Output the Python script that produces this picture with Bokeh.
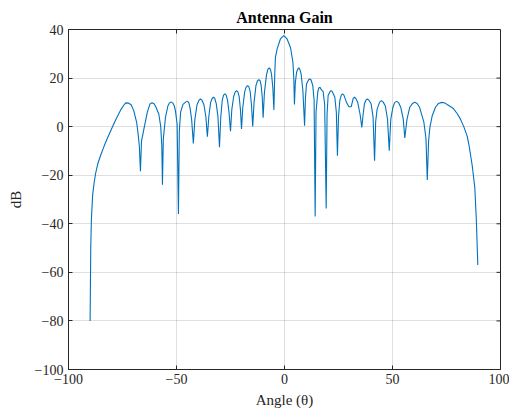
from bokeh.plotting import figure
from bokeh.models import Range1d, FixedTicker
from bokeh.embed import file_html
from bokeh.resources import INLINE

# Angle (deg) and gain (dB)
angle = [
    -90.0, -89.7, -89.4, -88.8, -88.2, -87.5, -86.5, -85.2, -83.5, -82.1, -80.5, -79.0, -77.5, -75.9, -74.5, -73.5, -72.3, -71.0, -69.8, -68.5, -67.9, -67.2, -66.7,
    -66.2, -65.1, -63.5, -62.3, -61.3, -60.3, -59.5, -58.2, -57.3, -56.8, -56.5,
    -56.1, -55.1, -54.0, -53.3, -52.5, -51.7, -51.0, -50.5, -49.7, -49.1,
    -48.7, -48.1, -47.0, -45.8, -45.0, -44.3, -43.7, -43.0, -42.2,
    -41.5, -40.5, -39.6, -38.9, -38.2, -37.3, -36.4, -35.7,
    -35.0, -34.2, -33.5, -32.9, -32.3, -31.6, -30.8, -30.1,
    -29.5, -28.8, -28.2, -27.6, -27.0, -26.4, -25.7, -25.0,
    -24.4, -23.5, -22.8, -22.2, -21.6, -21.0, -20.4, -19.9,
    -19.3, -18.4, -17.7, -17.1, -16.5, -15.9, -15.3, -14.7,
    -14.1, -13.2, -12.5, -11.9, -11.3, -10.8, -10.3, -9.9,
    -9.3, -8.3, -7.7, -7.1, -6.5, -6.0, -5.4, -4.9,
    -4.5, -4.2, -3.4, -1.9, -0.3, 1.2, 2.8, 3.9, 4.3, 4.6,
    5.0, 5.6, 6.1, 6.6, 7.1, 7.7, 8.5, 9.3,
    9.7, 10.2, 11.1, 11.7, 12.3, 13.1, 13.7, 14.2,
    14.6, 15.4, 15.8, 16.3, 16.7, 17.0, 17.9, 18.6, 19.3,
    19.7, 20.2, 21.0, 21.6, 22.2, 23.3, 24.0, 24.5,
    25.0, 25.6, 26.3, 26.9, 27.5, 28.7, 29.8, 30.9, 31.8, 32.4, 33.0, 33.9, 35.0, 35.8,
    36.4, 37.0, 37.7, 38.4, 39.1, 40.1, 41.0, 41.7,
    42.2, 42.9, 44.1, 44.9, 45.7, 46.7, 47.7, 48.5,
    49.2, 50.2, 51.0, 51.9, 52.8, 53.8, 55.0, 55.7,
    56.7, 58.0, 59.2, 60.3, 61.4, 62.5, 64.5, 65.5, 66.1,
    66.7, 67.3, 68.4, 69.9, 71.2, 72.8, 74.3, 75.5, 78.0, 80.0, 81.5, 83.0, 84.6, 85.5, 86.9, 88.1, 88.8, 89.5,
]
gain_db = [
    -80.0, -50.0, -38.0, -28.0, -23.5, -19.5, -15.5, -12.0, -8.0, -5.0, -1.8, 1.2, 4.0, 6.8, 8.7, 9.8, 9.7, 9.0, 6.6, 2.0, -2.0, -8.0, -18.4,
    -6.0, -1.0, 6.0, 9.3, 9.8, 9.3, 8.0, 5.2, 0.0, -8.0, -23.9,
    -5.0, 3.8, 8.5, 9.7, 10.2, 9.7, 8.5, 6.6, 1.0, -36.0,
    -2.0, 6.0, 9.2, 10.1, 10.5, 9.9, 7.5, 3.0, -6.9,
    3.0, 9.0, 10.9, 11.4, 10.9, 9.0, 4.0, -4.1,
    4.5, 10.0, 11.6, 12.1, 11.6, 9.5, 4.0, -8.5,
    4.0, 11.0, 13.0, 13.5, 13.0, 11.0, 6.0, -1.9,
    7.0, 12.5, 14.3, 14.8, 14.3, 12.5, 7.0, -1.0,
    8.0, 14.5, 16.4, 16.9, 16.4, 14.5, 9.0, 0.1,
    10.0, 17.0, 18.9, 19.4, 18.9, 17.0, 12.0, 3.7,
    14.0, 21.5, 23.6, 24.2, 23.6, 21.5, 16.0, 6.9,
    22.0, 28.6, 32.0, 36.1, 37.5, 36.1, 32.5, 26.5, 20.0, 9.1,
    18.0, 22.4, 23.6, 24.2, 23.6, 21.7, 15.0, 0.4,
    12.0, 17.6, 19.2, 19.7, 19.2, 16.9, 11.0, -37.0,
    6.0, 14.1, 15.8, 16.2, 15.9, 15.2, 14.4, 9.0, -33.7,
    5.0, 12.8, 14.3, 14.8, 14.3, 12.1, 6.0, -12.0,
    4.0, 10.7, 13.0, 13.5, 13.0, 10.0, 8.2, 8.2, 11.6, 12.1, 11.6, 10.0, 5.0, -0.3,
    5.0, 9.4, 10.9, 11.4, 10.9, 9.4, 4.0, -14.0,
    2.0, 7.3, 10.2, 10.7, 10.1, 8.5, 3.0, -9.9,
    3.0, 8.0, 9.9, 10.4, 9.9, 8.0, 3.0, -4.7,
    3.0, 8.0, 9.5, 10.0, 9.5, 8.0, 2.0, -5.0, -22.0,
    -6.0, -0.3, 4.5, 8.0, 9.5, 10.0, 9.7, 9.0, 7.6, 5.3, 3.0, 0.0, -4.0, -8.0, -16.0, -25.0, -38.0, -57.0,
]

x_ticks = [-100, -50, 0, 50, 100]
y_ticks = [-100, -80, -60, -40, -20, 0, 20, 40]
x_lo, x_hi = -100, 100
y_lo, y_hi = -100, 40

FONT = "Liberation Serif"
AX = "#262626"

W, H = 509, 412
BL, BR, BT, BB = 68, 9, 29, 43
TICK_PX = 4


def lab(v):
    return str(v).replace("-", "\u2212")


p = figure(
    width=W, height=H, output_backend="svg", toolbar_location=None,
    x_range=Range1d(x_lo, x_hi), y_range=Range1d(y_lo, y_hi),
    title="Antenna Gain",
    min_border_left=BL, min_border_right=BR, min_border_top=BT, min_border_bottom=BB,
)
p.title.align = "center"
p.title.text_font = FONT
p.title.text_font_size = "16px"
p.title.text_font_style = "bold"
p.title.text_color = "#000000"
p.title.offset = 0
p.title.standoff = 8

p.grid.grid_line_color = AX
p.grid.grid_line_alpha = 0.15
p.xgrid.ticker = FixedTicker(ticks=x_ticks)
p.ygrid.ticker = FixedTicker(ticks=y_ticks)

p.line(angle, gain_db, line_color="#0072BD", line_width=1.1)

p.outline_line_color = AX
p.outline_line_width = 1
p.outline_line_alpha = 1

for ax in (p.xaxis[0], p.yaxis[0]):
    ax.major_tick_in = TICK_PX
    ax.major_tick_out = 0
    ax.minor_tick_in = 0
    ax.minor_tick_out = 0
    ax.axis_line_color = AX
    ax.major_tick_line_color = AX
    ax.major_label_text_font = FONT
    ax.major_label_text_font_size = "14px"
    ax.major_label_text_color = AX
    ax.axis_label_text_font = FONT
    ax.axis_label_text_font_size = "15px"
    ax.axis_label_text_font_style = "normal"
    ax.axis_label_text_color = AX

p.xaxis[0].ticker = FixedTicker(ticks=x_ticks)
p.yaxis[0].ticker = FixedTicker(ticks=y_ticks)
p.xaxis[0].major_label_overrides = {v: lab(v) for v in x_ticks}
p.yaxis[0].major_label_overrides = {v: lab(v) for v in y_ticks}
p.xaxis[0].axis_label = "Angle (\u03b8)"
p.yaxis[0].axis_label = "dB"
p.xaxis[0].major_label_standoff = 4
p.yaxis[0].major_label_standoff = 5
p.xaxis[0].axis_label_standoff = 5
p.yaxis[0].axis_label_standoff = 8

# inward ticks on the top and right edges of the box (MATLAB "box on")
fw = W - BL - BR
fh = H - BT - BB
dx = TICK_PX * (x_hi - x_lo) / fw
dy = TICK_PX * (y_hi - y_lo) / fh
p.segment(x0=x_ticks, y0=[y_hi] * len(x_ticks), x1=x_ticks, y1=[y_hi - dy] * len(x_ticks),
          line_color=AX, line_width=1)
p.segment(x0=[x_hi] * len(y_ticks), y0=y_ticks, x1=[x_hi - dx] * len(y_ticks), y1=y_ticks,
          line_color=AX, line_width=1)

p.background_fill_color = "white"
p.border_fill_color = "white"

open("out.html", "w").write(file_html(p, INLINE))
